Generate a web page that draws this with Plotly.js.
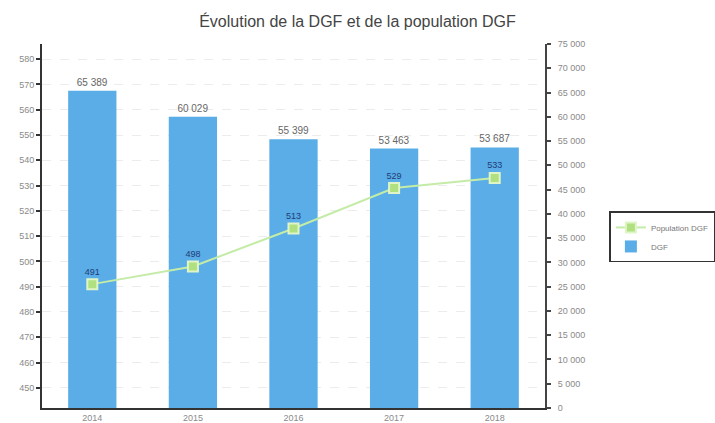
<!DOCTYPE html>
<html>
<head>
<meta charset="utf-8">
<script src="https://cdn.plot.ly/plotly-3.0.1.min.js"></script>
<style>html,body{margin:0;padding:0;background:#fff;}#chart{width:715px;height:423px;}</style>
</head>
<body>
<div id="chart"></div>
<script>
var years = ['2014', '2015', '2016', '2017', '2018'];
var dgf = [65389, 60029, 55399, 53463, 53687];
var population = [491, 498, 513, 529, 533];

var tickFont = {family: 'Liberation Sans, Arial, sans-serif', size: 9, color: '#8a8a8a'};

var traces = [
  {
    type: 'bar', name: 'DGF', x: years, y: dgf, yaxis: 'y',
    marker: {color: '#5aade6'},
    text: dgf, texttemplate: '%{y:,}', textposition: 'outside', cliponaxis: false,
    textfont: {family: 'Liberation Sans, Arial, sans-serif', size: 10, color: '#666'}
  },
  {
    type: 'scatter', mode: 'lines+markers+text', name: 'Population DGF',
    x: years, y: population, yaxis: 'y2',
    line: {color: '#c4eca8', width: 2},
    marker: {symbol: 'square', size: 10, color: '#b0e080', line: {color: '#dff5c8', width: 2}},
    text: population, textposition: 'top center',
    textfont: {family: 'Liberation Sans, Arial, sans-serif', size: 9, color: '#1f3c7a'}
  }
];

var layout = {
  width: 715, height: 423,
  margin: {l: 42, r: 170, t: 44, b: 15, autoexpand: false},
  paper_bgcolor: '#fff', plot_bgcolor: '#fff',
  separators: ', ',
  bargap: 0.52,
  title: {text: 'Évolution de la DGF et de la population DGF',
          font: {family: 'Liberation Sans, Arial, sans-serif', size: 16, color: '#444'},
          x: 0.5, xref: 'container', xanchor: 'center', y: 0.95, yref: 'container', yanchor: 'middle'},
  xaxis: {type: 'category', range: [-0.5, 4.5], showline: true, linecolor: '#333', linewidth: 2,
          ticks: '', tickfont: tickFont, showgrid: false, fixedrange: true},
  yaxis: {side: 'right', range: [0, 75000], dtick: 5000, tickformat: ',', showline: true,
          linecolor: '#444', linewidth: 2, ticks: 'outside', ticklen: 4, tickcolor: '#444',
          tickwidth: 2, tickfont: tickFont, ticklabelstandoff: 5, showgrid: false, zeroline: false},
  yaxis2: {side: 'left', overlaying: 'y', range: [442, 586], dtick: 10, showline: true,
           linecolor: '#333', linewidth: 2, ticks: 'outside', ticklen: 4, tickcolor: '#333',
           tickwidth: 2, tickfont: tickFont, showgrid: true, gridcolor: '#ececec',
           griddash: 'dash', gridwidth: 1, zeroline: false},
  showlegend: true,
  legend: {x: 1.128, xanchor: 'left', y: 0.54, yanchor: 'top', traceorder: 'reversed',
           bordercolor: '#333', borderwidth: 1.5, bgcolor: '#fff',
           font: {family: 'Liberation Sans, Arial, sans-serif', size: 8, color: '#777'},
           itemwidth: 30, tracegroupgap: 2}
};

Plotly.newPlot('chart', traces, layout, {displayModeBar: false, staticPlot: true});
</script>
</body>
</html>
